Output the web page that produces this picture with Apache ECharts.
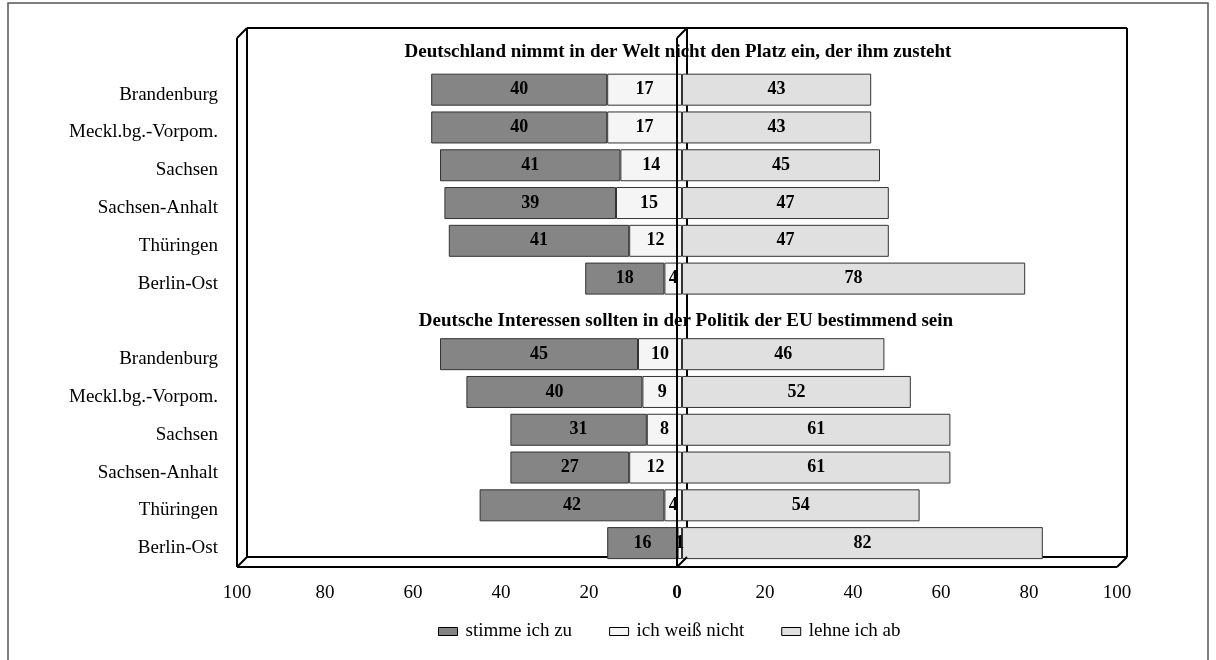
<!DOCTYPE html>
<html>
<head>
<meta charset="utf-8">
<script src="https://cdn.jsdelivr.net/npm/echarts@6/dist/echarts.min.js"></script>
<style>html,body{margin:0;padding:0;background:#fff;}#c{width:1216px;height:660px;}</style>
</head>
<body>
<div id="c"></div>
<script>
// ---- data ----
const regions = ['Brandenburg', 'Meckl.bg.-Vorpom.', 'Sachsen', 'Sachsen-Anhalt', 'Thüringen', 'Berlin-Ost'];
const statements = [
  'Deutschland nimmt in der Welt nicht den Platz ein, der ihm zusteht',
  'Deutsche Interessen sollten in der Politik der EU bestimmend sein'
];
const seriesNames = ['stimme ich zu', 'ich weiß nicht', 'lehne ich ab'];
const agree1  = [40, 40, 41, 39, 41, 18];
const dunno1  = [17, 17, 14, 15, 12, 4];
const reject1 = [43, 43, 45, 47, 47, 78];
const agree2  = [45, 40, 31, 27, 42, 16];
const dunno2  = [10, 9, 8, 12, 4, 1];
const reject2 = [46, 52, 61, 61, 54, 82];
const xMin = -100, xMax = 100, xInterval = 20;

// ---- build rows (header row + 6 regions, twice) ----
const rowLabels = [''].concat(regions, [''], regions);
const withHeaders = (a, b, f) => [null].concat(a.map(f), [null], b.map(f));
const agreeData  = withHeaders(agree1, agree2, v => -v);
const dunnoData  = withHeaders(dunno1, dunno2, v => -v);
const rejectData = withHeaders(reject1, reject2, v => v);
const headerRows = [0, regions.length + 1];

// ---- layout ----
const FONT = '"Liberation Serif", "Times New Roman", serif';
const F = { l: 237, t: 38, w: 880, h: 529, d: 10 };
const half = F.d / 2;

const colors = ['#858585', '#f5f5f5', '#e0e0e0'];
const barLabel = {
  show: true, position: 'inside', color: '#000', fontFamily: FONT,
  fontWeight: 'bold', fontSize: 18,
  formatter: p => (p.value == null ? '' : Math.abs(p.value))
};
function barSeries(name, data, color) {
  return {
    name, type: 'bar', stack: 'all', data, xAxisIndex: 1, yAxisIndex: 1,
    barWidth: 32,
    itemStyle: { color, borderColor: '#333', borderWidth: 1 },
    label: barLabel, z: 3
  };
}

// frame graphics
function line(x1, y1, x2, y2, z) {
  return { type: 'line', z, shape: { x1, y1, x2, y2 }, style: { stroke: '#000', lineWidth: 2 } };
}
const x0 = F.l + F.w / 2;
const L = F.l, R = F.l + F.w, T = F.t, B = F.t + F.h, D = F.d;
const frame = [
  // back wall (behind bars)
  line(L + D, T - D, R + D, T - D, 0),
  line(R + D, T - D, R + D, B - D, 0),
  line(L + D, B - D, R + D, B - D, 0),
  line(L + D, T - D, L + D, B - D, 0),
  line(x0 + D, T - D, x0 + D, B - D, 0),
  // left wall front & diagonals
  line(L, T, L, B, 50),
  line(L, T, L + D, T - D, 50),
  line(L, B, L + D, B - D, 50),
  // floor front
  line(L, B, R, B, 50),
  line(R, B, R + D, B - D, 50),
  // zero wall front (over bars)
  line(x0, T, x0, B, 50),
  line(x0, T, x0 + D, T - D, 50),
  line(x0, B, x0 + D, B - D, 50),
  // outer border
  { type: 'rect', z: 0, shape: { x: 8, y: 3, width: 1200, height: 700 },
    style: { fill: 'none', stroke: '#555', lineWidth: 1.5 } }
];

const chart = echarts.init(document.getElementById('c'), null, { renderer: 'canvas' });
chart.setOption({
  animation: false,
  backgroundColor: '#fff',
  color: colors,
  grid: [
    { left: F.l, top: F.t, width: F.w, height: F.h },
    { left: F.l + half, top: F.t - half, width: F.w, height: F.h }
  ],
  xAxis: [
    { gridIndex: 0, type: 'value', min: xMin, max: xMax, interval: xInterval,
      axisLine: { show: false }, axisTick: { show: false }, splitLine: { show: false },
      axisLabel: { margin: 17, color: '#000', fontFamily: FONT, fontSize: 19,
        formatter: v => (v === 0 ? '{b|0}' : String(Math.abs(v))),
        rich: { b: { fontWeight: 'bold', fontFamily: FONT, fontSize: 19, color: '#000' } } } },
    { gridIndex: 1, type: 'value', min: xMin, max: xMax, interval: xInterval, show: false }
  ],
  yAxis: [
    { gridIndex: 0, type: 'category', inverse: true, data: rowLabels,
      axisLine: { show: false }, axisTick: { show: false },
      axisLabel: { margin: 19, color: '#000', fontFamily: FONT, fontSize: 19 } },
    { gridIndex: 1, type: 'category', inverse: true, data: rowLabels, show: false }
  ],
  legend: {
    data: seriesNames, left: 433, top: 617, icon: 'rect',
    itemWidth: 19, itemHeight: 8, itemGap: 37,
    itemStyle: { borderColor: '#000', borderWidth: 1 },
    textStyle: { color: '#000', fontFamily: FONT, fontSize: 19, padding: [0, 0, 0, 3] }
  },
  graphic: frame,
  series: [
    barSeries(seriesNames[1], dunnoData, colors[1]),
    barSeries(seriesNames[0], agreeData, colors[0]),
    barSeries(seriesNames[2], rejectData, colors[2]),
    {
      type: 'scatter', xAxisIndex: 1, yAxisIndex: 1, symbolSize: 0, silent: true,
      itemStyle: { opacity: 1 },
      data: headerRows.map((r, i) => ({
        value: [0, r],
        label: { offset: i === 0 ? [-4, 0] : [4, 5] }
      })),
      label: {
        show: true, position: 'inside', color: '#000', fontFamily: FONT,
        fontWeight: 'bold', fontSize: 19,
        formatter: p => statements[p.dataIndex]
      },
      z: 4
    }
  ]
});
</script>
</body>
</html>
